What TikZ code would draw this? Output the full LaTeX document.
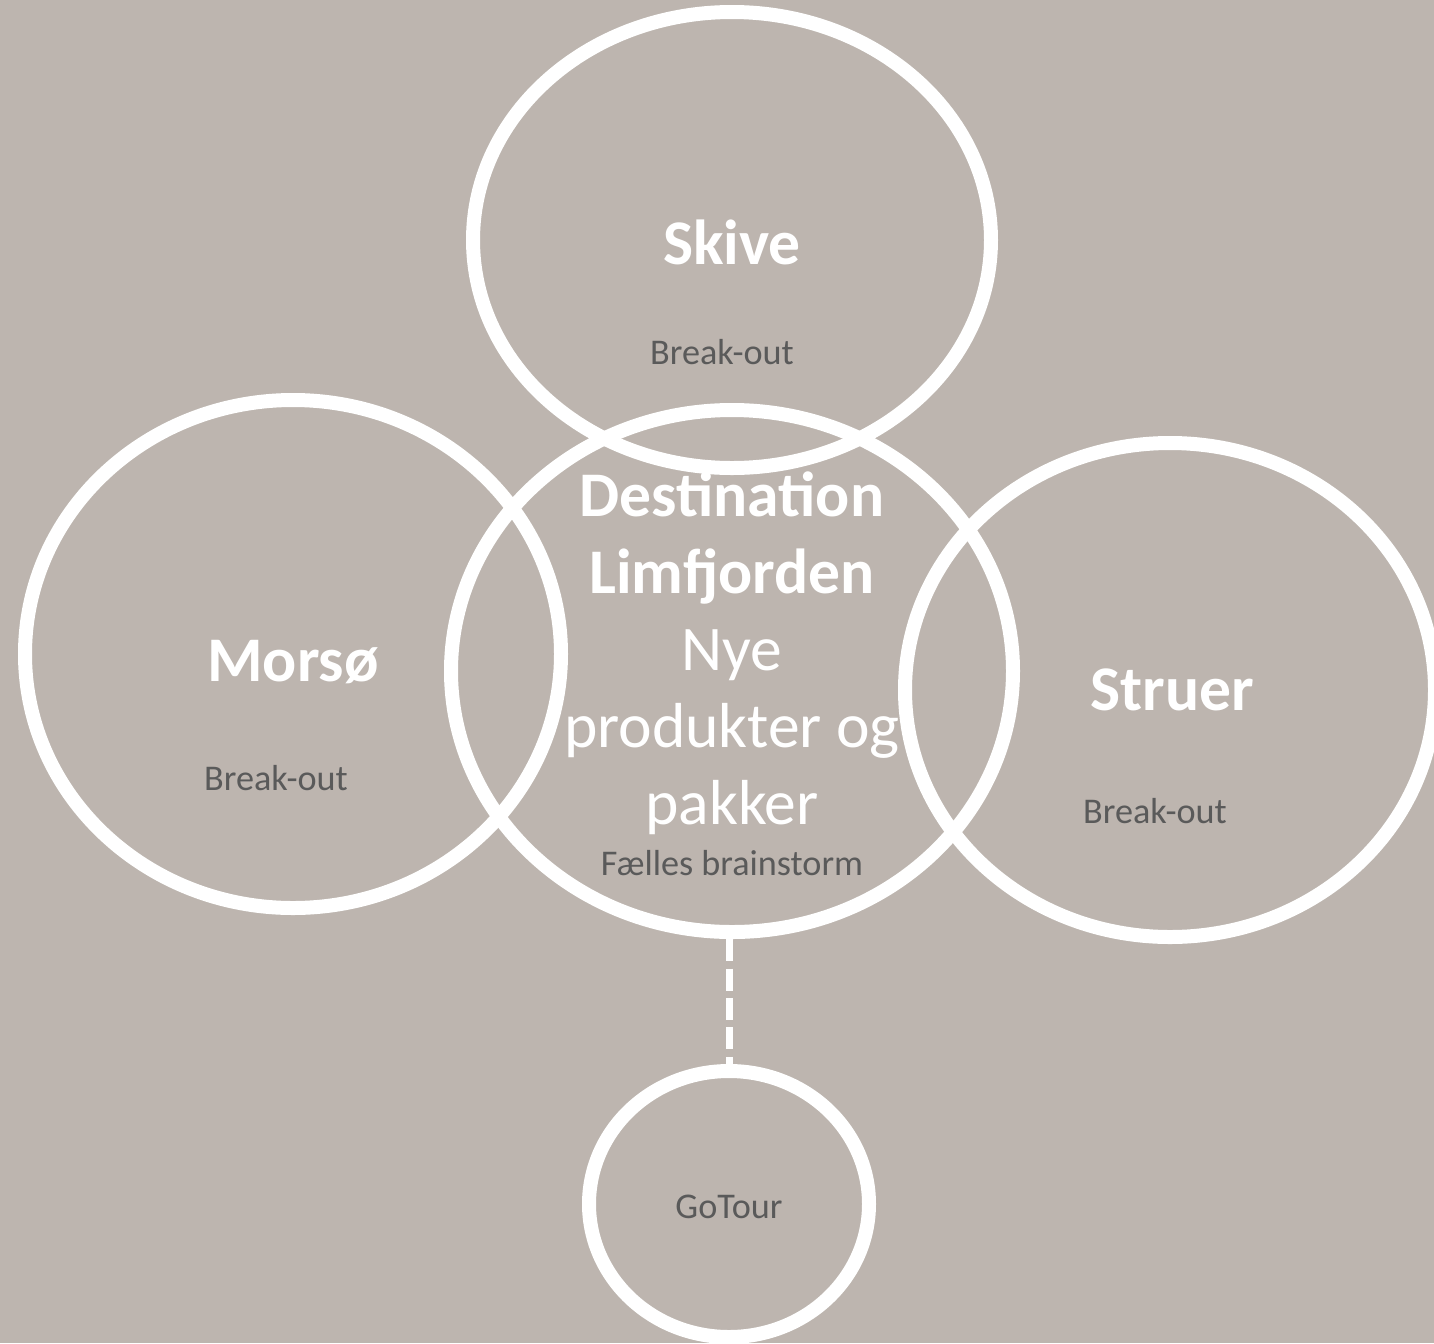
\documentclass[tikz,border=0pt]{standalone}
\usepackage{fontspec}
\setmainfont{Carlito}
\usetikzlibrary{shapes.geometric}
\definecolor{bgc}{HTML}{BDB5AF}
\definecolor{smallgrey}{HTML}{5A5A5A}
\tikzset{
  ring/.style={ellipse, draw=white, line width=0.28cm, inner sep=0pt, fill=none},
  bigbold/.style={text=white, font=\fontsize{36.2pt}{43.8pt}\selectfont\bfseries, inner sep=0pt},
  bigreg/.style={text=white, font=\fontsize{36.2pt}{43.8pt}\selectfont, inner sep=0pt, align=center},
  smalltxt/.style={text=smallgrey, font=\fontsize{20.6pt}{24pt}\selectfont, inner sep=0pt},
  dashline/.style={draw=white, line width=0.14cm, dash pattern=on 0.44cm off 0.15cm}
}
\begin{document}
\begin{tikzpicture}[x=0.02cm,y=-0.02cm]
\fill[bgc] (0,0) rectangle (1434,1343);
\useasboundingbox (0,0) rectangle (1434,1343);
% rings
\node[ring, minimum width=518*0.02cm, minimum height=456*0.02cm] (skive) at (732,240) {};
\node[ring, minimum width=562*0.02cm, minimum height=522*0.02cm] (center) at (732,671) {};
\node[ring, minimum width=536*0.02cm, minimum height=508*0.02cm] (morso) at (293,654) {};
\node[ring, minimum width=530*0.02cm, minimum height=494*0.02cm] (struer) at (1170,690) {};
\node[ring, minimum width=280*0.02cm, minimum height=266*0.02cm] (gotour) at (729,1204) {};
% connector
\coordinate (dtop) at (gotour.north |- center.south);
\draw[dashline] (dtop) -- (gotour.north);
% labels
\node[bigbold] (tskive) at (732,242) {Skive};
\node[smalltxt] (bskive) at (722,352) {Break-out};
\node[bigbold] (tmorso) at (293,662) {Morsø};
\node[smalltxt] (bmorso) at (276,778) {Break-out};
\node[bigbold] (tstruer) at (1172,690) {Struer};
\node[smalltxt] (bstruer) at (1155,811) {Break-out};
\node[bigreg] (tcenter) at (732,653) {\textbf{Destination}\\\textbf{Limfjorden}\\Nye\\produkter og\\pakker};
\node[smalltxt] (bcenter) at (732,863) {Fælles brainstorm};
\node[smalltxt] (tgotour) at (729,1207) {GoTour};
\end{tikzpicture}
\end{document}
